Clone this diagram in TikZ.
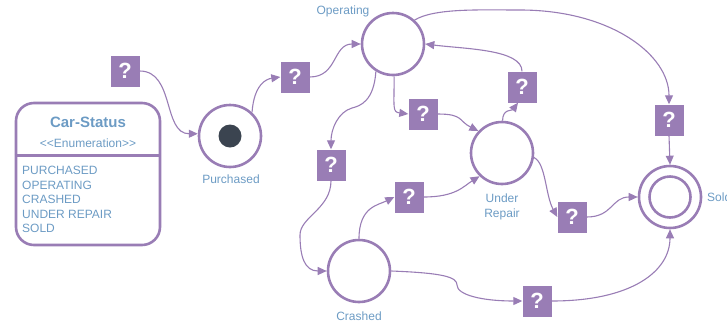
\documentclass[tikz,border=0pt]{standalone}
\usepackage{fontspec}
\setmainfont{Liberation Sans}
\usetikzlibrary{arrows.meta}
\definecolor{umlpurple}{RGB}{153,125,181}
\definecolor{umlblue}{RGB}{108,155,196}
\definecolor{umldot}{RGB}{59,68,80}

\begin{document}
\begin{tikzpicture}[x=1pt,y=-1pt,
  state/.style={circle,draw=umlpurple,line width=2.6pt,minimum size=62pt,inner sep=0pt},
  qbox/.style={fill=umlpurple,text=white,minimum width=29pt,minimum height=31pt,inner sep=0pt,
               font=\fontsize{22}{22}\selectfont\bfseries},
  lbl/.style={text=umlblue,font=\fontsize{12}{14}\selectfont,inner sep=0pt},
  flow/.style={draw=umlpurple,line width=1.1pt,-{Triangle[length=9pt,width=8pt]}},
  qmark/.style={qbox,node contents={?}}]
\clip (0,0) rectangle (727,325);

% enumeration box
\node[draw=umlpurple,line width=2.6pt,rounded corners=18pt,minimum width=144pt,minimum height=142pt,inner sep=0pt]
  (enum) at (88,174) {};
\draw[umlpurple,line width=2.6pt] ([yshift=-54pt]enum.north west) -- ([yshift=-54pt]enum.north east);
\node[lbl,font=\fontsize{15}{17}\selectfont\bfseries] (enumtitle) at (88,122) {Car-Status};
\node[lbl] (enumtype) at (88,143) {<{}<Enumeration>{}>};
\node[lbl,anchor=west] (lit1) at (22,170) {PURCHASED};
\node[lbl,anchor=west] (lit2) at (22,185) {OPERATING};
\node[lbl,anchor=west] (lit3) at (22,199) {CRASHED};
\node[lbl,anchor=west] (lit4) at (22,214) {UNDER REPAIR};
\node[lbl,anchor=west] (lit5) at (22,228) {SOLD};

% states
\node[state] (purchased) at (230,136) {};
\node[circle,fill=umldot,minimum size=23pt,inner sep=0pt] (dot) at (purchased) {};
\node[state] (operating) at (393,44) {};
\node[state] (repair) at (502,153) {};
\node[state] (crashed) at (359,271) {};
\node[state] (sold) at (670,197) {};
\node[circle,draw=umlpurple,line width=2.6pt,minimum size=41pt,inner sep=0pt] (soldin) at (sold) {};

% state labels
\node[lbl] (lpurchased) at (231,179) {Purchased};
\node[lbl] (loperating) at (343,11) {Operating};
\node[lbl,align=center,font=\fontsize{12}{14.5}\selectfont] (lrepair) at (502,207) {Under\\Repair};
\node[lbl] (lcrashed) at (359,316) {Crashed};
\node[lbl,anchor=west] (lsold) at (707,197) {Sold};

% unknown transition events
\node (q1) at (125,71) [qmark];
\node (q2) at (295,77) [qmark];
\node (q3) at (423,114) [qmark];
\node (q4) at (522,87) [qmark];
\node (q5) at (331,165) [qmark];
\node (q6) at (409,197) [qmark];
\node (q7) at (572,217) [qmark];
\node (q8) at (669,120) [qmark];
\node (q9) at (537,301) [qmark];

% transitions
\draw[flow] (q1.east) .. controls +(35,0) and +(-35,0) .. (purchased.176);
\draw[flow] (purchased.47) .. controls +(2,-28) and +(-14,2) .. (q2.west);
\draw[flow] (q2.east) .. controls +(28,0) and +(-28,0) .. (operating.west);
\draw[flow] (operating.238) .. controls +(-2,30) and +(8,-2) .. (352,108) .. controls +(-14,4) and +(0,-20) .. (q5.north);
\draw[flow] (q5.south) .. controls +(0,28) and +(0,-18) .. (300,235) .. controls +(0,22) and +(-22,0) .. (crashed.west);
\draw[flow] (operating.272) .. controls +(0,32) and +(-16,-2) .. (q3.west);
\draw[flow] (q3.east) .. controls +(26,0) and +(-20,-10) .. (repair.137);
\draw[flow] (repair.89) .. controls +(0,-12) and +(-6,8) .. ([xshift=-4pt]q4.south);
\draw[flow] (q4.north) .. controls +(0,-22) and +(40,5) .. (operating.east);
\draw[flow] (operating.48) .. controls +(20,-12) and +(-40,0) .. (520,10) .. controls +(90,0) and +(0,-50) .. (q8.north);
\draw[flow] (q8.south) -- (sold.north);
\draw[flow] (repair.352) .. controls +(12,6) and +(-12,-22) .. (q7.west);
\draw[flow] (q7.east) .. controls +(26,0) and +(-26,0) .. (sold.west);
\draw[flow] (crashed.north) .. controls +(0,-32) and +(-16,8) .. (q6.west);
\draw[flow] (q6.east) .. controls +(32,0) and +(-16,10) .. (repair.226);
\draw[flow] (crashed.east) .. controls +(52,2) and +(0,-8) .. (457,285) .. controls +(0,10) and +(-40,0) .. (q9.west);
\draw[flow] (q9.east) .. controls +(80,0) and +(0,42) .. (sold.south);
\end{tikzpicture}
\end{document}
